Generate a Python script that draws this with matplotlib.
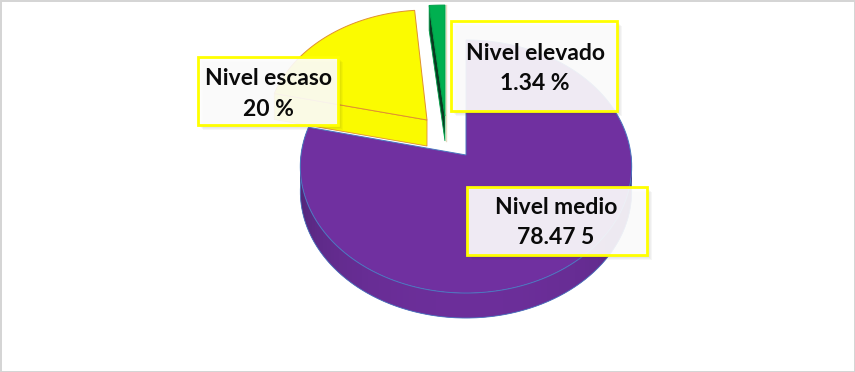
import numpy as np
import matplotlib
matplotlib.use('Agg')
import matplotlib.pyplot as plt
from matplotlib.patches import Polygon, Rectangle

# valores del grafico
categorias = ['Nivel medio', 'Nivel escaso', 'Nivel elevado']
valores = [78.47, 20, 1.34]
etiquetas_valor = ['78.47 5', '20 %', '1.34 %']

colores = ['#7030a0', '#fbfb00', '#00b050']
bordes = ['#4a78c0', '#e09030', '#00a048']
paredes = ['#6a2e98', '#fafa00', '#0a3a22']

# vertice y escala de cada porcion (pixeles)
vertices = [(466, 155), (427, 120), (445, 116)]
escala_x = [165, 160, 205]
escala_y = [125.5, 120, 121]
prof = [25, 26, 25]
k = 0.0909  # perspectiva

# cajas de texto: izquierda, arriba, derecha, abajo
cajas = [(467, 187, 647, 255), (198, 57, 338, 125), (451, 21, 617, 111)]
centro_txt = [(556, 207.5, 237), (268, 78.5, 109), (535, 53.5, 83)]

plt.rcParams['font.family'] = ['Lato', 'DejaVu Sans']

fig = plt.figure(figsize=(8.55, 3.72), dpi=100)
ax = fig.add_axes([0, 0, 1, 1])
ax.set_xlim(0, 855)
ax.set_ylim(372, 0)
ax.axis('off')

# marco de la imagen
ax.add_patch(Rectangle((0.5, 1), 854, 370.5, fc='white', ec='#d4d4d4', lw=1.4))


def proyectar(i, grados):
    t = np.radians(grados)
    x = np.cos(t)
    y = np.sin(t)
    d = 1 + k * y
    return vertices[i][0] + escala_x[i] * x / d, vertices[i][1] - escala_y[i] * y / d


# angulos de cada porcion, en sentido horario desde las 12
fracciones = np.array(valores) / sum(valores) * 360
fin = 90 - np.cumsum(fracciones)
inicio = fin + fracciones

# pared frontal de la porcion grande, con sombreado
ang = np.linspace(fin[0], 0, 90)
for j in range(len(ang) - 1):
    a0 = ang[j]
    a1 = ang[min(j + 2, len(ang) - 1)]
    xs, ys = proyectar(0, np.linspace(a0, a1, 4))
    luz = abs(np.sin(np.radians(ang[j])))
    c = np.array([0x42, 0x22, 0x66]) * (1 - luz**0.6) + np.array([0x6c, 0x2e, 0x9a]) * luz**0.6
    pts = list(zip(xs, ys)) + list(zip(xs[::-1], ys[::-1] + prof[0]))
    ax.add_patch(Polygon(pts, fc=c / 255, ec='none', zorder=2))
xb, yb = proyectar(0, ang)
ax.plot(xb, yb + prof[0], color='#4a78c0', lw=0.6, zorder=2.1)

# pared de las porciones separadas
for i in [1, 2]:
    xa, ya = proyectar(i, inicio[i])
    vx, vy = vertices[i]
    ax.add_patch(Polygon([(vx, vy), (xa, ya), (xa, ya + prof[i]), (vx, vy + prof[i])],
                         fc=paredes[i], ec=bordes[i], lw=0.6, zorder=2))

# borde claro de la porcion verde
xv, yv = proyectar(2, fin[2])
ax.plot([xv + 1, vertices[2][0] + 1], [yv, vertices[2][1] + prof[2]], color='#e6dcc0', lw=1, zorder=2)

# cara superior
for i in range(3):
    angs = np.linspace(inicio[i], fin[i], 200)
    xs, ys = proyectar(i, angs)
    pts = [vertices[i]] + list(zip(xs, ys))
    ax.add_patch(Polygon(pts, closed=True, fc=colores[i], ec=bordes[i], lw=0.7, zorder=3))

# etiquetas
for i in range(3):
    l, t, r, b = cajas[i]
    for s in range(1, 6):
        ax.add_patch(Rectangle((l + s, t + s), r - l, b - t, fc='#303030', ec='none', alpha=0.04, zorder=4))
    ax.add_patch(Rectangle((l, t), r - l, b - t, fc='white', ec='none', alpha=0.9, zorder=5))
    ax.add_patch(Rectangle((l, t), r - l, b - t, fc='none', ec='#ffff00', lw=2.0, zorder=6))
    cx, y1, y2 = centro_txt[i]
    ax.text(cx, y1, categorias[i], ha='center', va='center', fontsize=16.5, fontweight='bold', color='#0a0a0a', zorder=7)
    ax.text(cx, y2, etiquetas_valor[i], ha='center', va='center', fontsize=16.5, fontweight='bold', color='#0a0a0a', zorder=7)

fig.savefig('out.png', dpi=100)
